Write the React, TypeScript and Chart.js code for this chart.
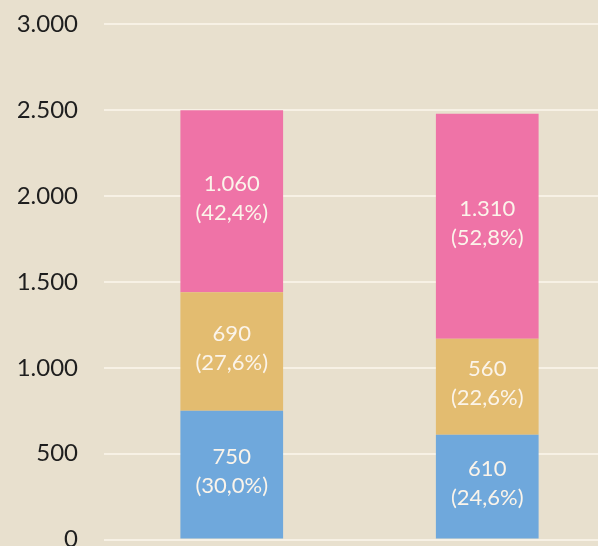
import React, { useEffect, useRef } from "react";
import { Chart, registerables } from "chart.js";

Chart.register(...registerables);

const categories = ["A", "B"];
const blueValues = [750, 610];
const yellowValues = [690, 560];
const pinkValues = [1060, 1310];
const yTicks = [0, 500, 1000, 1500, 2000, 2500, 3000];

const fmtInt = (v: number) => String(Math.round(v)).replace(/\B(?=(\d{3})+(?!\d))/g, ".");
const fmtPct = (v: number) => v.toFixed(1).replace(".", ",");

const labelPlugin = {
  id: "segLabels",
  afterDatasetsDraw(chart: any) {
    const ctx = chart.ctx;
    const ds = chart.data.datasets;
    const n = chart.data.labels.length;
    const totals: number[] = [];
    for (let i = 0; i < n; i++) {
      let s = 0;
      ds.forEach((d: any) => (s += d.data[i]));
      totals.push(s);
    }
    ctx.save();
    ctx.fillStyle = "#FBF4EA";
    ctx.font = "22px Lato";
    ctx.textAlign = "center";
    ctx.textBaseline = "middle";
    ds.forEach((d: any, di: number) => {
      const meta = chart.getDatasetMeta(di);
      meta.data.forEach((el: any, i: number) => {
        const p = el.getProps(["x", "y", "base"], true);
        const cy = (p.y + p.base) / 2 - 3;
        const v = d.data[i];
        ctx.fillText(fmtInt(v), p.x, cy - 14.5);
        ctx.fillText("(" + fmtPct((v / totals[i]) * 100) + "%)", p.x, cy + 14.5);
      });
    });
    ctx.restore();
  },
};

export default function App() {
  const ref = useRef<HTMLCanvasElement | null>(null);
  useEffect(() => {
    if (!ref.current) return;
    const chart = new Chart(ref.current, {
      type: "bar",
      data: {
        labels: categories,
        datasets: [
          { label: "blue", data: blueValues, backgroundColor: "#6FA8DC" },
          { label: "yellow", data: yellowValues, backgroundColor: "#E3BC70" },
          { label: "pink", data: pinkValues, backgroundColor: "#EF73A7" },
        ],
      },
      options: {
        animation: false,
        responsive: false,
        maintainAspectRatio: false,
        layout: { padding: { left: 18, right: 25, top: 8, bottom: 2 } },
        datasets: { bar: { categoryPercentage: 1, barPercentage: 0.402 } } as any,
        plugins: { legend: { display: false }, tooltip: { enabled: false } },
        scales: {
          x: { stacked: true, display: false },
          y: {
            stacked: true,
            min: 0,
            max: 3000,
            border: { display: false },
            grid: { color: "#F7F1E5", lineWidth: 2, drawTicks: false },
            afterBuildTicks: (axis: any) => {
              axis.ticks = yTicks.map((v) => ({ value: v }));
            },
            afterFit: (axis: any) => {
              axis.width = 86;
            },
            ticks: {
              padding: 26,
              color: "#1E1E1E",
              font: { family: "Lato", size: 24 },
              callback: (v: any) => fmtInt(Number(v)),
            },
          },
        },
      },
      plugins: [labelPlugin],
    });
    return () => chart.destroy();
  }, []);
  return (
    <div
      style={{
        position: "fixed",
        left: 0,
        top: 0,
        width: 598,
        height: 546,
        overflow: "hidden",
        background: "#E8E0CE",
      }}
    >
      <canvas
        ref={ref}
        width={640}
        height={596}
        style={{ display: "block", marginTop: -16 }}
      />
    </div>
  );
}
